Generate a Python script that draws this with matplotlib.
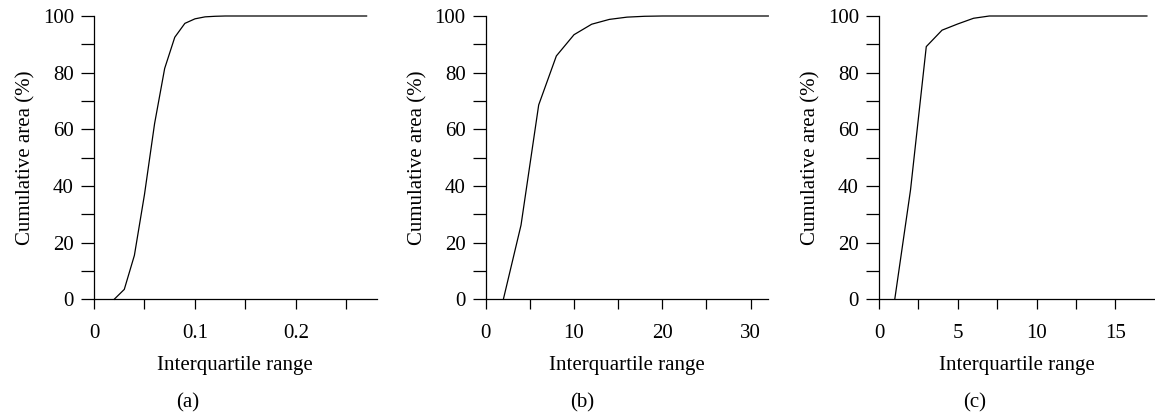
import matplotlib.pyplot as plt
from matplotlib.ticker import MultipleLocator

# ---- data ----
iqr_a = [0.02, 0.03, 0.04, 0.05, 0.06, 0.07, 0.08, 0.09, 0.10, 0.11, 0.12, 0.13, 0.15, 0.20, 0.27]
cum_a = [0, 3.5, 15.5, 37, 62, 81.5, 92.5, 97.4, 99.0, 99.7, 99.9, 100, 100, 100, 100]

iqr_b = [2, 4, 6, 8, 10, 12, 14, 16, 18, 20, 25, 32]
cum_b = [0, 26.2, 68.6, 85.9, 93.4, 97.1, 98.8, 99.6, 99.9, 100, 100, 100]

iqr_c = [1, 2, 3, 4, 5, 6, 7, 8, 10, 17]
cum_c = [0, 38.6, 89.2, 95.0, 97.2, 99.2, 100, 100, 100, 100]

panels = ["(a)", "(b)", "(c)"]

plt.rcParams['font.family'] = ['Liberation Serif', 'DejaVu Serif']
fs = 15

W, H = 1155, 415
fig = plt.figure(figsize=(W / 100, H / 100), dpi=100)

# axes boxes in pixels: left, right, top, bottom
boxes = [(94, 376.7, 16, 299.3), (485.7, 768.3, 16, 299.3), (879, 1154, 16, 299.3)]
xlims = [0.28, 32, 17.45]
majors = [0.1, 10, 5]
minors = [0.05, 5, 2.5]
xs = [iqr_a, iqr_b, iqr_c]
ys = [cum_a, cum_b, cum_c]
label_x = [188, 582, 975]

for i in range(3):
    l, r, t, b = boxes[i]
    ax = fig.add_axes([l / W, 1 - b / H, (r - l) / W, (b - t) / H])
    ax.plot(xs[i], ys[i], color='black', lw=0.9, clip_on=False)
    ax.set_xlim(0, xlims[i])
    ax.set_ylim(0, 100)
    for s in ['top', 'right']:
        ax.spines[s].set_visible(False)
    for s in ['left', 'bottom']:
        ax.spines[s].set_linewidth(0.9)
    ax.xaxis.set_major_locator(MultipleLocator(majors[i]))
    ax.xaxis.set_minor_locator(MultipleLocator(minors[i]))
    ax.yaxis.set_major_locator(MultipleLocator(20))
    ax.yaxis.set_minor_locator(MultipleLocator(10))
    if i == 0:
        ax.set_xticks([0, 0.1, 0.2])
        ax.set_xticklabels(['0', '0.1', '0.2'])
    ax.tick_params(axis='x', which='both', direction='out', length=7.5, width=0.9,
                   labelsize=fs, pad=10.5)
    ax.tick_params(axis='y', which='both', direction='out', length=9.5, width=0.9,
                   labelsize=fs, pad=5)
    ax.set_xlabel('Interquartile range', fontsize=fs, labelpad=9)
    ax.set_ylabel('Cumulative area (%)', fontsize=fs, labelpad=5)
    fig.text(label_x[i] / W, 1 - 403 / H, panels[i], ha='center', va='center', fontsize=fs)

fig.savefig('out.png', dpi=100)
